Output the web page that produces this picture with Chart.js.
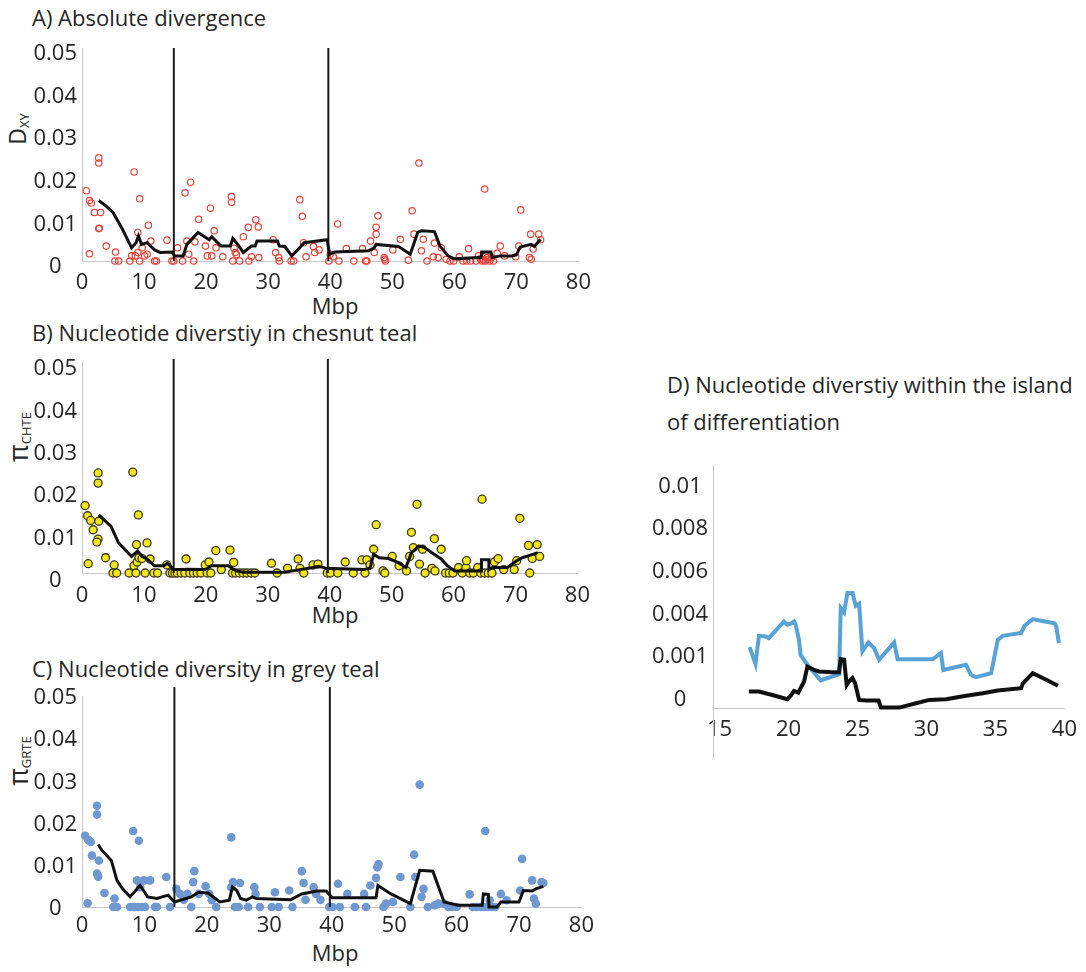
<!DOCTYPE html>
<html>
<head>
<meta charset="utf-8">
<script src="https://cdn.jsdelivr.net/npm/chart.js@4.4.1/dist/chart.umd.min.js"></script>
<style>
body { margin: 0; background: #fff; width: 1086px; height: 972px; position: relative; overflow: hidden; font-family: 'Open Sans', sans-serif; color: #262626; }
canvas { position: absolute; }
.t { position: absolute; font-size: 22px; line-height: 1; white-space: nowrap; }
.mbp { position: absolute; width: 100px; text-align: center; font-size: 22px; line-height: 1; }
.yl { position: absolute; width: 120px; height: 30px; line-height: 30px; text-align: center; transform: rotate(-90deg); font-size: 23px; white-space: nowrap; }
.yl sub { font-size: 13px; vertical-align: -3px; }
.yl .pi { font-size: 27px; }
</style>
</head>
<body>
<div class="t" style="left:32px;top:6px">A) Absolute divergence</div>
<div class="t" style="left:32px;top:321px">B) Nucleotide diverstiy in chesnut teal</div>
<div class="t" style="left:32px;top:657px">C) Nucleotide diversity in grey teal</div>
<div class="t" style="left:667px;top:366px;line-height:37px">D) Nucleotide diverstiy within the island<br>of differentiation</div>

<div class="yl" style="left:-43px;top:114px">D<sub>XY</sub></div>
<div class="yl" style="left:-42px;top:422px"><span class="pi">π</span><sub>CHTE</sub></div>
<div class="yl" style="left:-42px;top:746px"><span class="pi">π</span><sub>GRTE</sub></div>

<div class="mbp" style="left:285px;top:294px">Mbp</div>
<div class="mbp" style="left:285px;top:603px">Mbp</div>
<div class="mbp" style="left:285px;top:941px">Mbp</div>

<canvas id="chartA" width="600" height="320" style="left:0;top:0"></canvas>
<canvas id="chartB" width="600" height="320" style="left:0;top:320px"></canvas>
<canvas id="chartC" width="600" height="332" style="left:0;top:640px"></canvas>
<canvas id="chartD" width="456" height="330" style="left:630px;top:440px"></canvas>

<script>
// axes
const mbpTicks = [0, 10, 20, 30, 40, 50, 60, 70, 80];
const divTickVals = [0, 0.01, 0.02, 0.03, 0.04, 0.05];
const divTickLabels = ['0', '0.01', '0.02', '0.03', '0.04', '0.05'];
const islandXTicks = [15, 20, 25, 30, 35, 40];
const islandTickVals = [0, 0.002, 0.004, 0.006, 0.008, 0.01];
const islandTickLabels = ['0', '0.001', '0.004', '0.006', '0.008', '0.01'];

// limites de l'ilot de differenciation (Mbp)
const islandEdges = [14.8, 39.7];

// A) Dxy : fenetres [Mbp, valeur]
const dxyPts = [[0.7,0.0165],[1.2,0.0142],[1.5,0.0136],[2.0,0.0114],[1.2,0.0017],[2.7,0.0242],[2.7,0.023],[3.0,0.0114],[2.7,0.0076],[2.8,0.0077],[3.9,0.0035],[5.4,0.0021],[5.3,0],[5.9,0],[7.7,0],[8.4,0.0209],[9.3,0.0146],[9.0,0.0067],[8.0,0.0012],[8.6,0.0012],[9.0,0.002],[9.3,0],[9.7,0.0031],[10.1,0.0012],[10.5,0.0016],[10.7,0.0084],[11.1,0.0047],[11.7,0],[12.0,0],[13.7,0.0049],[14.5,0],[14.8,0],[15.4,0.0031],[16.2,0],[16.6,0.016],[16.9,0.0047],[17.2,0.0016],[17.5,0.0185],[18.0,0],[18.2,0.0045],[18.8,0.0098],[19.9,0.0035],[20.2,0.0012],[20.9,0.0012],[20.7,0.0124],[21.3,0.0071],[21.6,0.0031],[22.7,0.001],[24.1,0.0151],[24.1,0.0138],[24.3,0],[24.5,0.003],[24.7,0.002],[24.9,0.0015],[25.4,0],[26.0,0.0057],[26.8,0.0079],[26.9,0],[27.3,0.001],[28.0,0.0097],[28.4,0.008],[28.5,0.0008],[30.8,0.005],[31.2,0.002],[31.7,0.0008],[31.8,0],[33.7,0],[34.1,0],[35.1,0.0144],[35.5,0.0105],[35.7,0.0043],[36.1,0.001],[37.3,0.0034],[37.5,0.002],[38.2,0.0026],[39.8,0],[40.0,0.0016],[40.5,0.001],[41.2,0.0087],[41.4,0],[42.6,0.0029],[43.8,0],[45.2,0.0029],[45.7,0],[45.9,0],[46.5,0.0047],[47.1,0.002],[47.4,0.0079],[47.4,0.0063],[47.7,0.0106],[48.7,0.0008],[48.9,0],[48.8,0.0004],[50.1,0.0026],[51.3,0.0051],[52.6,0.0002],[53.2,0.0118],[53.5,0.0063],[54.3,0.023],[54.7,0.0024],[55.0,0.0051],[55.6,0],[56.8,0.0042],[56.6,0.001],[57.4,0.0008],[57.9,0.0031],[58.7,0.0004],[59.3,0],[59.9,0],[60.8,0.001],[61.4,0],[62.0,0],[62.6,0],[62.3,0.0029],[63.5,0],[63.9,0.0012],[64.2,0.0005],[64.5,0],[64.7,0.0003],[64.9,0.0169],[65.0,0],[65.1,0.0012],[65.3,0.0008],[65.4,0.0004],[65.7,0],[66.0,0.0008],[66.3,0],[66.9,0.0018],[67.4,0.0035],[68.1,0.0012],[69.9,0.001],[70.4,0.0035],[70.7,0.012],[72.1,0.0008],[72.4,0.0004],[72.3,0.0063],[72.7,0.0028],[73.6,0.0063],[73.9,0.005]];
const dxyAvg = [[2.7,0.0142],[3.8,0.013],[5.0,0.0114],[6.5,0.0075],[8.0,0.0031],[8.7,0.0043],[9.1,0.0059],[9.6,0.0039],[10.5,0.0043],[11.7,0.0026],[12.6,0.002],[14.5,0.0021],[14.9,0.0012],[16.3,0.0012],[16.9,0.0039],[18.7,0.0067],[20.5,0.005],[20.9,0.0057],[22.4,0.0035],[23.9,0.0035],[24.3,0.0053],[25.1,0.0039],[26.0,0.002],[27.3,0.0035],[27.9,0.0035],[28.2,0.0047],[31.5,0.0047],[31.8,0.0035],[32.7,0.0034],[33.8,0.0012],[34.9,0.0028],[35.8,0.0043],[39.5,0.005],[39.9,0.0016],[40.7,0.0021],[46.2,0.0024],[47.1,0.0031],[47.4,0.0039],[51.0,0.0034],[52.9,0.0016],[54.1,0.0067],[54.7,0.0071],[56.8,0.0069],[57.7,0.0035],[59.0,0.0012],[60.0,0.0005],[63.8,0.0008],[64.3,0.0008],[64.4,0.0021],[65.9,0.0021],[66.1,0.0008],[67.5,0.0012],[69.3,0.0012],[70.0,0.0014],[70.6,0.0033],[72.4,0.0039],[72.9,0.0034],[73.9,0.0051]];

// B) pi chesnut teal
const chtePts = [[0.5,0.0159],[0.9,0.0135],[1.4,0.0124],[1.8,0.0102],[1.0,0.0022],[2.6,0.0236],[2.6,0.0212],[2.7,0.0122],[2.6,0.008],[2.4,0.0073],[3.8,0.0036],[5.2,0.0019],[5.0,0],[5.6,0],[7.6,0],[8.2,0.0238],[9.1,0.0137],[8.8,0.0067],[8.4,0.0017],[8.9,0.0026],[9.2,0.0036],[8.7,0],[10.2,0],[9.7,0.0034],[10.5,0.0071],[11.0,0.0033],[11.6,0],[12.2,0],[13.7,0.0019],[14.2,0],[14.6,0],[15.0,0],[15.4,0],[16.0,0],[16.6,0],[17.4,0],[18.0,0],[18.6,0],[19.2,0],[16.8,0.0033],[19.9,0.0019],[20.5,0.0026],[20.2,0],[20.8,0],[21.6,0.0053],[22.5,0.0008],[23.9,0.0054],[24.3,0],[24.5,0.0025],[24.8,0],[25.4,0],[26.0,0],[26.6,0],[27.3,0],[27.9,0],[30.6,0.0023],[31.5,0],[33.2,0.0011],[34.9,0.0033],[35.2,0.0011],[35.8,0],[37.3,0.0019],[38.1,0.0021],[39.6,0],[40.1,0],[41.3,0],[42.5,0.0026],[43.8,0],[45.2,0.0031],[46.0,0.0031],[45.7,0],[46.5,0.0019],[47.1,0.0056],[47.5,0.0114],[48.6,0.0005],[48.9,0],[50.1,0.0039],[51.2,0.0017],[52.4,0.0005],[52.9,0.0039],[53.2,0.0096],[53.5,0.006],[54.1,0.0162],[54.5,0.0021],[55.0,0.0056],[55.4,0],[56.5,0.0011],[57.0,0.0005],[56.9,0.0081],[58.0,0.0056],[58.7,0],[59.3,0],[59.9,0],[60.8,0.0013],[61.4,0],[62.0,0.0013],[62.6,0],[63.2,0],[62.1,0.0029],[63.9,0.0013],[64.4,0],[65.0,0],[65.6,0],[66.2,0],[64.6,0.0174],[66.6,0.0026],[67.2,0.0034],[68.1,0.0008],[69.8,0.0008],[70.2,0.0029],[70.7,0.0129],[72.1,0.0065],[72.3,0],[72.7,0.0034],[73.5,0.0067],[73.9,0.0039]];
const chteAvg = [[2.7,0.0137],[4.7,0.011],[5.9,0.0071],[8.0,0.0039],[9.0,0.0052],[9.7,0.0039],[10.5,0.0033],[11.7,0.0017],[13.2,0.0017],[13.8,0.0023],[14.8,0.0008],[15.7,0.0008],[16.9,0.0009],[19.9,0.0008],[20.9,0.0017],[23.6,0.0017],[24.9,0.0005],[26.0,0.0002],[32.7,0.0002],[35.2,0.0008],[37.3,0.0013],[38.2,0.0016],[39.5,0.0011],[45.5,0.0008],[46.5,0.0011],[47.1,0.0044],[48.0,0.0036],[49.5,0.0034],[51.0,0.0025],[52.3,0.0013],[53.2,0.0048],[54.4,0.0064],[55.3,0.006],[56.5,0.0048],[58.0,0.0033],[59.0,0.0017],[60.2,0.0005],[64.5,0.0005],[64.5,0.0031],[65.7,0.0031],[65.7,0.0008],[66.3,0.0013],[68.7,0.0013],[70.2,0.0029],[71.1,0.0036],[72.4,0.0042],[73.6,0.0048]];

// C) pi grey teal
const grtePts = [[0.5,0.0169],[1.0,0.0159],[1.4,0.0154],[1.6,0.0122],[0.9,0.0009],[2.4,0.024],[2.4,0.0219],[2.7,0.011],[2.4,0.0079],[2.6,0.0072],[3.6,0.0033],[5.2,0.002],[5.0,0],[5.6,0],[7.7,0],[8.2,0],[8.5,0],[9.0,0],[9.5,0],[10.1,0],[8.2,0.018],[9.1,0.0157],[8.8,0.0063],[9.3,0.0047],[9.9,0.0063],[10.9,0.0063],[11.7,0],[12.0,0],[13.5,0.0071],[14.1,0],[15.1,0.0043],[15.7,0.0031],[16.3,0.0017],[16.9,0.0031],[17.5,0],[17.8,0.0059],[18.0,0.0085],[18.7,0.0031],[19.8,0.0049],[20.4,0.0031],[20.8,0.0016],[21.5,0],[23.9,0.0165],[23.9,0.0047],[24.2,0.0059],[24.5,0],[25.1,0],[25.3,0.0057],[26.6,0],[27.6,0.0047],[27.8,0.0031],[28.5,0],[30.4,0],[30.9,0.0035],[31.5,0],[33.2,0.0039],[33.7,0],[35.2,0.0085],[35.5,0.0057],[35.8,0.0017],[37.1,0.0047],[37.5,0.0031],[38.2,0.0017],[39.6,0],[40.1,0],[41.0,0.0055],[41.3,0],[42.5,0.0031],[43.7,0],[45.2,0.0031],[45.5,0],[46.2,0.0051],[47.1,0.0069],[47.3,0.0094],[47.5,0.0102],[48.3,0],[48.7,0.0008],[49.8,0.0012],[51.0,0.0071],[52.6,0],[53.2,0.0124],[53.4,0.0071],[54.1,0.029],[54.4,0.0024],[54.7,0.0043],[55.4,0],[56.5,0.0004],[57.1,0.0008],[58.0,0.0008],[58.7,0],[59.3,0],[60.0,0],[62.1,0.003],[62.6,0],[63.2,0],[63.8,0],[64.4,0],[65.0,0],[65.6,0],[66.2,0],[64.6,0.018],[65.3,0.0016],[67.1,0.0031],[68.0,0.0016],[70.2,0.0039],[70.5,0.0114],[72.1,0.0063],[72.4,0.002],[72.7,0.0008],[73.6,0.0059],[73.9,0.0057]];
const grteAvg = [[2.6,0.0148],[3.2,0.0134],[4.7,0.011],[5.6,0.0063],[6.5,0.0043],[7.7,0.0024],[9.3,0.0051],[9.9,0.0038],[10.5,0.0024],[12.0,0.002],[13.8,0.0028],[14.8,0.0012],[17.5,0.0024],[18.7,0.0035],[20.2,0.0033],[22.1,0.0012],[23.6,0.0016],[24.1,0.0047],[24.8,0.0039],[25.4,0.002],[26.3,0.0016],[27.3,0.0024],[27.9,0.002],[33.4,0.0017],[35.2,0.0031],[37.6,0.0038],[39.1,0.0038],[40.1,0.0022],[47.1,0.0022],[47.4,0.0051],[49.5,0.0031],[52.6,0.0008],[54.1,0.0087],[56.2,0.0085],[58.0,0.0012],[60.2,0.0004],[64.1,0.0004],[64.3,0.0031],[65.1,0.003],[65.2,0],[66.5,0],[67.1,0.0012],[70.0,0.0012],[70.7,0.0039],[72.1,0.0038],[72.7,0.0043],[73.9,0.0049]];

// D) ilot (valeurs placees sur la graduation de l'axe)
const islandBlue = [[17.18,0.00247],[17.61,0.00169],[17.86,0.003],[18.34,0.00297],[18.58,0.00289],[19.67,0.00367],[19.92,0.00352],[20.23,0.00359],[20.4,0.00367],[20.52,0.00352],[20.76,0.00281],[20.88,0.00211],[21.37,0.00164],[22.34,0.00091],[23.67,0.0012],[23.79,0.0043],[24.03,0.0041],[24.27,0.005],[24.64,0.005],[24.88,0.0044],[25.12,0.0045],[25.36,0.00227],[25.8,0.00269],[26.21,0.00242],[26.57,0.00188],[27.66,0.00269],[27.91,0.0019],[30.45,0.0019],[31.05,0.0022],[31.22,0.0014],[32.87,0.00164],[33.23,0.00117],[33.6,0.00106],[34.69,0.00125],[35.17,0.00281],[35.53,0.003],[36.86,0.00313],[37.11,0.00347],[37.71,0.00378],[39.29,0.00359],[39.41,0.00344],[39.6,0.00266]];
const islandBlack = [[17.13,0.00039],[17.86,0.00039],[18.83,0.00023],[19.92,0.00003],[20.16,0.00019],[20.4,0.00042],[20.71,0.00034],[21.13,0.00086],[21.37,0.00156],[21.85,0.00141],[22.22,0.00133],[23.18,0.0013],[23.67,0.0013],[23.79,0.00191],[24.03,0.00188],[24.22,0.0007],[24.39,0.00086],[24.64,0.00102],[24.83,0.00078],[25.12,0],[25.61,-0.00003],[26.53,-0.00003],[26.7,-0.00036],[28.03,-0.00036],[29.24,-0.00016],[30.21,0],[31.42,0.00003],[32.87,0.00019],[34.08,0.00031],[35.17,0.00044],[36.86,0.00055],[36.99,0.00078],[37.71,0.00125],[38.68,0.00094],[39.53,0.00066]];

Chart.defaults.font.family = "'Open Sans', sans-serif";
Chart.defaults.font.size = 22;
Chart.defaults.color = '#262626';

const toXY = arr => arr.map(p => ({ x: p[0], y: p[1] }));

// prolonge l'axe Y sous l'axe X (panneau D)
const yAxisTail = {
    id: 'yAxisTail',
    afterDraw(chart) {
        const { ctx, chartArea } = chart;
        ctx.save();
        ctx.strokeStyle = '#c8c8c8';
        ctx.lineWidth = 1;
        ctx.beginPath();
        ctx.moveTo(chartArea.left + 0.5, chartArea.bottom);
        ctx.lineTo(chartArea.left + 0.5, chartArea.bottom + 50);
        ctx.stroke();
        ctx.restore();
    }
};

function axes(c) {
    return {
        x: {
            type: 'linear', min: c.xMin, max: c.xMax,
            afterFit: s => { s.height = c.xH; },
            afterBuildTicks: s => { s.ticks = c.xTicks.map(v => ({ value: v })); },
            grid: { display: false, drawTicks: false },
            border: { display: true, color: '#c8c8c8', width: 1 },
            ticks: { padding: c.xPad, maxRotation: 0, autoSkip: false }
        },
        y: {
            type: 'linear', min: c.yMin, max: c.yMax,
            afterFit: s => { s.width = c.yW; },
            afterBuildTicks: s => { s.ticks = c.yTicks.map(v => ({ value: v })); },
            grid: { display: false, drawTicks: false },
            border: { display: true, color: '#c8c8c8', width: 1 },
            ticks: {
                padding: 5, crossAlign: 'center', labelOffset: c.yOff,
                callback: (v, i) => c.yLabels[i]
            }
        }
    };
}

const panelConfigs = [
    { id: 'chartA', pts: dxyPts, avg: dxyAvg, top: 48, right: 16, xH: 59, xPad: 9, yOff: 6, lineTop: 0.05,
      point: { radius: 3.2, backgroundColor: 'rgba(255,255,255,0)', borderColor: '#e3423a', borderWidth: 1.2 } },
    { id: 'chartB', pts: chtePts, avg: chteAvg, top: 41, right: 16, xH: 67, xPad: 10, yOff: 8, lineTop: 0.0505,
      point: { radius: 4, backgroundColor: '#f2e620', borderColor: '#3b3820', borderWidth: 1.3 } },
    { id: 'chartC', pts: grtePts, avg: grteAvg, top: 56, right: 16, xH: 65, xPad: 6, yOff: 2, lineTop: 0.0521,
      point: { radius: 4.3, backgroundColor: '#6f97d0', borderColor: '#6f97d0', borderWidth: 0 } }
];

panelConfigs.forEach(cfg => {
    const ctx = document.getElementById(cfg.id).getContext('2d');
    const edgeSets = islandEdges.map(e => ({
        data: [{ x: e, y: 0 }, { x: e, y: cfg.lineTop }],
        showLine: true, borderColor: '#1a1a1a', borderWidth: 2, pointRadius: 0, clip: false, order: 1
    }));
    new Chart(ctx, {
        type: 'scatter',
        data: {
            datasets: [
                { data: toXY(cfg.avg), showLine: true, borderColor: '#111', borderWidth: 3, pointRadius: 0, order: 0, clip: false },
                ...edgeSets,
                Object.assign({ data: toXY(cfg.pts), pointStyle: 'circle', clip: false, order: 2 }, cfg.point)
            ]
        },
        options: {
            responsive: false, animation: false,
            layout: { padding: { top: cfg.top, right: cfg.right, left: 0, bottom: 0 } },
            plugins: { legend: { display: false }, tooltip: { enabled: false }, title: { display: false } },
            scales: axes({ xMin: 0, xMax: 80, xTicks: mbpTicks, xH: cfg.xH, xPad: cfg.xPad,
                           yMin: 0, yMax: 0.05, yTicks: divTickVals, yLabels: divTickLabels, yW: 82, yOff: cfg.yOff })
        }
    });
});

new Chart(document.getElementById('chartD').getContext('2d'), {
    type: 'scatter',
    data: {
        datasets: [
            { data: toXY(islandBlack), showLine: true, borderColor: '#111', borderWidth: 4, pointRadius: 0, order: 0, clip: false },
            { data: toXY(islandBlue), showLine: true, borderColor: '#58a2d6', borderWidth: 4, pointRadius: 0, order: 1, clip: false }
        ]
    },
    options: {
        responsive: false, animation: false,
        layout: { padding: { top: 25, right: 19, left: 0, bottom: 0 } },
        plugins: { legend: { display: false }, tooltip: { enabled: false } },
        scales: axes({ xMin: 14.53, xMax: 40, xTicks: islandXTicks, xH: 62, xPad: 9,
                       yMin: -0.00038, yMax: 0.011, yTicks: islandTickVals, yLabels: islandTickLabels, yW: 83, yOff: 0 })
    },
    plugins: [yAxisTail]
});
</script>
</body>
</html>
